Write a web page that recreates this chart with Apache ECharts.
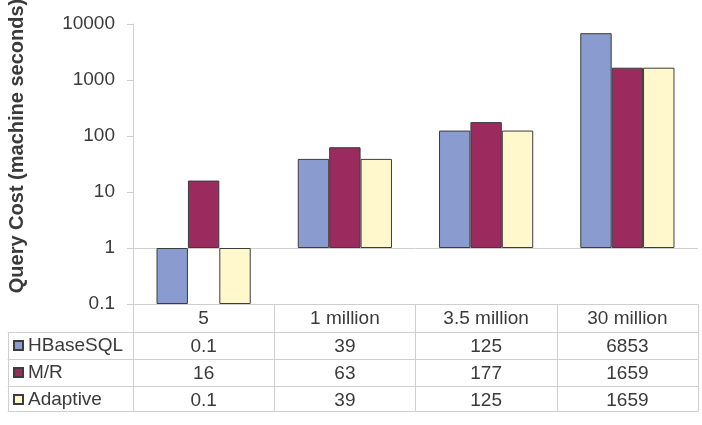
<!DOCTYPE html>
<html><head><meta charset="utf-8">
<script src="https://cdn.jsdelivr.net/npm/echarts@6/dist/echarts.min.js"></script>
<style>html,body{margin:0;padding:0;background:#fff}#c{width:702px;height:425px}</style>
</head><body><div id="c"></div>
<script>
var categories = ['5', '1 million', '3.5 million', '30 million'];
var seriesNames = ['HBaseSQL', 'M/R', 'Adaptive'];
var hbaseSQL = [0.1, 39, 125, 6853];
var mapReduce = [16, 63, 177, 1659];
var adaptive = [0.1, 39, 125, 1659];
var yTicks = [0.1, 1, 10, 100, 1000, 10000];

var seriesValues = [hbaseSQL, mapReduce, adaptive];
var colors = ['#8a9bd0', '#9b2a5f', '#fff8cc'];
var FONT = "'Liberation Sans', Arial, sans-serif";
var txt = '#3a3a3a';
var lineC = '#cfcfcf';

var chart = echarts.init(document.getElementById('c'), null, {renderer: 'canvas'});

var xAxes = [{
  type: 'category', gridIndex: 0, data: categories, position: 'bottom',
  axisLine: {show: true, onZero: false, lineStyle: {color: lineC}},
  axisTick: {show: true, length: 107, lineStyle: {color: lineC}},
  axisLabel: {fontSize: 19, color: txt, fontFamily: FONT, margin: 5}
}];
var offsets = [28, 55, 82];
seriesValues.forEach(function (vals, i) {
  xAxes.push({
    type: 'category', gridIndex: 0, data: categories, position: 'bottom', offset: offsets[i],
    axisLine: {show: true, onZero: false, lineStyle: {color: lineC}},
    axisTick: {show: false},
    axisLabel: {fontSize: 19, color: txt, fontFamily: FONT, margin: 5,
      formatter: (function (v) { return function (val, idx) { return String(v[idx]); }; })(vals)}
  });
});
xAxes.push({
  type: 'category', gridIndex: 0, data: categories, position: 'bottom', offset: 107,
  axisLine: {show: true, onZero: false, lineStyle: {color: lineC}}, axisTick: {show: false}, axisLabel: {show: false}
});
// left legend column of the table
xAxes.push({
  type: 'category', gridIndex: 1, data: [''], position: 'bottom', offset: 28,
  axisLine: {show: true, onZero: false, lineStyle: {color: lineC}},
  axisTick: {show: true, length: 79, lineStyle: {color: lineC}}, axisLabel: {show: false}
});
[55, 82, 107].forEach(function (o) {
  xAxes.push({
    type: 'category', gridIndex: 1, data: [''], position: 'bottom', offset: o,
    axisLine: {show: true, onZero: false, lineStyle: {color: lineC}}, axisTick: {show: false}, axisLabel: {show: false}
  });
});

var option = {
  backgroundColor: '#fff',
  animation: false,
  grid: [
    {left: 133, right: 4, top: 24, bottom: 121, containLabel: false, outerBoundsMode: 'none'},
    {left: 8, width: 125, top: 24, bottom: 121, containLabel: false, outerBoundsMode: 'none'}
  ],
  legend: {
    orient: 'vertical', left: 8, top: 331, itemGap: 8,
    itemWidth: 9, itemHeight: 9, icon: 'rect',
    textStyle: {fontSize: 19, color: txt, fontFamily: FONT},
    data: seriesNames
  },
  xAxis: xAxes,
  yAxis: [{
    type: 'log', logBase: 10, gridIndex: 0, min: 0.1, max: 10000,
    name: 'Query Cost (machine seconds)', nameLocation: 'middle', nameGap: 106,
    nameTextStyle: {fontSize: 20, fontWeight: 'bold', color: txt, fontFamily: FONT, padding: [0, 0, 0, 36]},
    axisLine: {show: true, lineStyle: {color: lineC}},
    axisTick: {show: true, length: 6, lineStyle: {color: lineC}},
    splitLine: {show: false},
    axisLabel: {fontSize: 19, color: txt, fontFamily: FONT, margin: 18,
      formatter: function (v) { return String(v); }}
  }, {
    type: 'value', gridIndex: 1, show: false
  }],
  series: seriesValues.map(function (vals, i) {
    var s = {
      name: seriesNames[i], type: 'bar', xAxisIndex: 0, yAxisIndex: 0,
      data: vals, barGap: '0%', barCategoryGap: '33.3%',
      itemStyle: {color: colors[i], borderColor: '#3c3c3c', borderWidth: 1}
    };
    if (i === 0) {
      s.markLine = {
        silent: true, symbol: 'none', label: {show: false}, z: 1,
        lineStyle: {color: lineC, type: 'solid', width: 1},
        data: [{yAxis: 1}]
      };
    }
    return s;
  })
};
chart.setOption(option);
</script></body></html>
